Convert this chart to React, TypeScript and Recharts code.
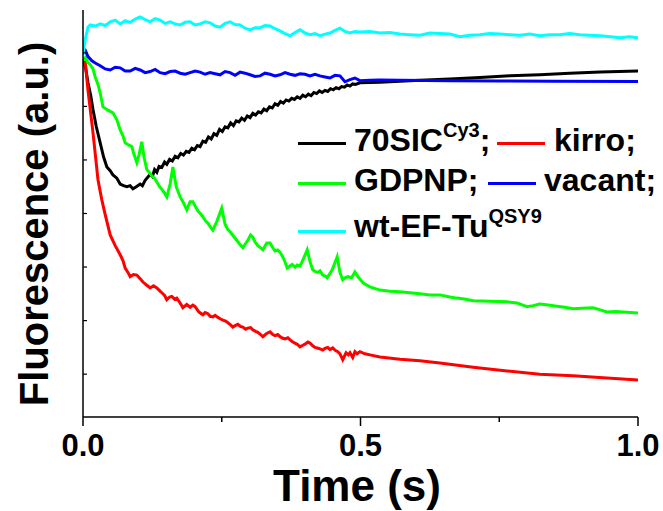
import React from "react";
import { LineChart, Line, XAxis, YAxis, Legend } from "recharts";

// [time (s), fluorescence (a.u.)]
const sic70: [number, number][] = [
  [0, 5.87], [0.005, 5.7], [0.009, 5.44], [0.014, 5.2], [0.018, 4.94], [0.024, 4.62], [0.031, 4.32],
  [0.037, 4.06], [0.043, 3.87], [0.049, 3.8], [0.054, 3.72], [0.061, 3.66], [0.067, 3.55], [0.073, 3.52],
  [0.079, 3.5], [0.085, 3.52], [0.09, 3.46], [0.096, 3.5], [0.103, 3.55], [0.107, 3.52], [0.112, 3.62],
  [0.117, 3.68], [0.121, 3.73], [0.125, 3.69], [0.129, 3.82], [0.133, 3.77], [0.137, 3.88], [0.142, 3.86],
  [0.147, 3.96], [0.151, 3.92], [0.156, 4.01], [0.161, 3.98], [0.166, 4.07], [0.171, 4.04], [0.176, 4.12],
  [0.181, 4.09], [0.186, 4.16], [0.191, 4.14], [0.196, 4.22], [0.201, 4.19], [0.206, 4.27], [0.211, 4.25],
  [0.216, 4.35], [0.221, 4.33], [0.226, 4.43], [0.231, 4.39], [0.236, 4.49], [0.241, 4.46], [0.246, 4.57],
  [0.251, 4.53], [0.256, 4.62], [0.261, 4.6], [0.266, 4.69], [0.271, 4.64], [0.276, 4.73], [0.281, 4.71],
  [0.286, 4.78], [0.291, 4.74], [0.296, 4.82], [0.301, 4.79], [0.306, 4.87], [0.311, 4.84], [0.316, 4.9],
  [0.321, 4.88], [0.326, 4.95], [0.331, 4.92], [0.336, 4.99], [0.341, 4.97], [0.346, 5.05], [0.351, 5.02],
  [0.356, 5.09], [0.361, 5.06], [0.366, 5.12], [0.371, 5.1], [0.376, 5.15], [0.381, 5.13], [0.386, 5.18],
  [0.391, 5.15], [0.396, 5.21], [0.401, 5.18], [0.406, 5.23], [0.411, 5.2], [0.416, 5.26], [0.421, 5.24],
  [0.426, 5.29], [0.431, 5.26], [0.436, 5.3], [0.441, 5.28], [0.446, 5.33], [0.451, 5.31], [0.456, 5.35],
  [0.461, 5.33], [0.466, 5.37], [0.471, 5.36], [0.476, 5.4], [0.481, 5.38], [0.486, 5.42], [0.491, 5.41],
  [0.499, 5.44], [0.535, 5.45], [0.571, 5.47], [0.607, 5.49], [0.661, 5.51], [0.715, 5.54],
  [0.769, 5.57], [0.823, 5.59], [0.877, 5.62], [0.932, 5.64], [1.0, 5.66],
];

const kirro: [number, number][] = [
  [0, 5.87], [0.004, 5.83], [0.009, 5.3], [0.018, 4.51], [0.027, 3.63], [0.034, 3.25], [0.04, 2.98],
  [0.049, 2.6], [0.058, 2.4], [0.067, 2.23], [0.072, 2.12], [0.076, 1.98], [0.081, 1.9], [0.085, 1.82],
  [0.091, 1.86], [0.097, 1.85], [0.103, 1.78], [0.108, 1.72], [0.115, 1.66], [0.121, 1.61], [0.127, 1.65],
  [0.133, 1.61], [0.138, 1.56], [0.142, 1.52], [0.147, 1.47], [0.151, 1.39], [0.156, 1.44], [0.16, 1.45],
  [0.165, 1.4], [0.169, 1.42], [0.175, 1.33], [0.18, 1.24], [0.187, 1.3], [0.193, 1.25], [0.198, 1.29],
  [0.202, 1.26], [0.209, 1.16], [0.216, 1.11], [0.22, 1.15], [0.225, 1.13], [0.229, 1.08], [0.234, 1.07],
  [0.238, 1.1], [0.243, 1.06], [0.248, 1.03], [0.252, 1.01], [0.257, 0.99], [0.261, 0.96], [0.266, 0.92],
  [0.27, 0.88], [0.275, 0.91], [0.279, 0.93], [0.284, 0.89], [0.288, 0.88], [0.293, 0.84], [0.297, 0.86],
  [0.302, 0.87], [0.306, 0.83], [0.311, 0.8], [0.315, 0.78], [0.32, 0.74], [0.324, 0.7], [0.331, 0.76],
  [0.337, 0.79], [0.342, 0.74], [0.346, 0.72], [0.351, 0.74], [0.355, 0.7], [0.36, 0.67], [0.364, 0.66],
  [0.369, 0.68], [0.373, 0.64], [0.378, 0.6], [0.382, 0.58], [0.387, 0.55], [0.391, 0.51], [0.396, 0.54],
  [0.4, 0.56], [0.405, 0.6], [0.409, 0.58], [0.414, 0.53], [0.418, 0.5], [0.425, 0.48], [0.432, 0.45],
  [0.436, 0.48], [0.441, 0.5], [0.445, 0.46], [0.45, 0.49], [0.455, 0.44], [0.459, 0.42], [0.463, 0.38],
  [0.468, 0.27], [0.474, 0.4], [0.478, 0.36], [0.481, 0.4], [0.486, 0.31], [0.49, 0.42], [0.494, 0.38],
  [0.499, 0.42], [0.508, 0.38], [0.517, 0.36], [0.535, 0.32], [0.571, 0.28], [0.607, 0.25], [0.643, 0.21],
  [0.703, 0.13], [0.764, 0.06], [0.823, 0.0], [0.883, -0.03], [0.944, -0.07], [1.0, -0.11],
];

const gdpnp: [number, number][] = [
  [0, 5.87], [0.004, 5.91], [0.009, 5.82], [0.013, 5.78], [0.018, 5.7], [0.022, 5.55], [0.027, 5.41],
  [0.031, 5.25], [0.036, 4.99], [0.045, 4.93], [0.054, 4.88], [0.061, 4.75], [0.067, 4.56], [0.072, 4.45],
  [0.076, 4.32], [0.082, 4.28], [0.088, 4.25], [0.092, 4.1], [0.097, 3.95], [0.101, 4.1], [0.106, 4.34],
  [0.11, 4.05], [0.115, 3.82], [0.12, 3.76], [0.124, 3.7], [0.129, 3.66], [0.133, 3.59], [0.138, 3.5],
  [0.142, 3.45], [0.147, 3.38], [0.151, 3.31], [0.157, 3.55], [0.162, 3.87], [0.168, 3.5], [0.175, 3.31],
  [0.181, 3.2], [0.187, 3.07], [0.193, 3.22], [0.198, 3.22], [0.203, 3.12], [0.207, 3.05], [0.212, 2.99],
  [0.216, 2.94], [0.221, 2.86], [0.225, 2.82], [0.23, 2.74], [0.234, 2.69], [0.241, 2.85], [0.25, 3.1],
  [0.256, 2.8], [0.261, 2.7], [0.265, 2.66], [0.271, 2.58], [0.277, 2.5], [0.283, 2.42], [0.288, 2.36],
  [0.293, 2.44], [0.297, 2.5], [0.302, 2.6], [0.306, 2.56], [0.31, 2.47], [0.315, 2.4], [0.32, 2.36],
  [0.324, 2.32], [0.331, 2.45], [0.337, 2.45], [0.342, 2.36], [0.346, 2.3], [0.351, 2.32], [0.355, 2.28],
  [0.362, 2.15], [0.368, 1.98], [0.373, 2.02], [0.377, 2.05], [0.382, 2.0], [0.386, 2.04], [0.391, 2.02],
  [0.395, 2.1], [0.404, 2.32], [0.409, 2.1], [0.414, 1.95], [0.418, 1.92], [0.423, 1.9], [0.427, 1.93],
  [0.432, 1.85], [0.436, 1.83], [0.44, 1.8], [0.449, 1.95], [0.458, 2.19], [0.463, 1.9], [0.468, 1.76],
  [0.472, 1.8], [0.477, 1.82], [0.484, 1.8], [0.49, 1.91], [0.497, 1.8], [0.505, 1.7], [0.517, 1.63],
  [0.535, 1.57], [0.553, 1.55], [0.571, 1.54], [0.589, 1.52], [0.607, 1.5], [0.625, 1.48], [0.643, 1.48],
  [0.661, 1.44], [0.674, 1.42], [0.69, 1.4], [0.703, 1.37], [0.733, 1.36], [0.764, 1.35], [0.782, 1.33],
  [0.8, 1.26], [0.811, 1.28], [0.823, 1.31], [0.838, 1.29], [0.854, 1.27], [0.868, 1.25], [0.883, 1.22],
  [0.9, 1.23], [0.919, 1.24], [0.932, 1.2], [0.944, 1.16], [0.96, 1.17], [0.973, 1.16], [0.986, 1.15],
  [1.0, 1.14],
];

const vacant: [number, number][] = [
  [0, 6.09], [0.004, 6.05], [0.009, 5.93], [0.016, 5.85], [0.022, 5.81], [0.031, 5.76], [0.04, 5.7],
  [0.049, 5.68], [0.058, 5.73], [0.067, 5.72], [0.076, 5.66], [0.085, 5.66], [0.094, 5.71], [0.103, 5.68],
  [0.112, 5.63], [0.121, 5.65], [0.13, 5.69], [0.139, 5.63], [0.148, 5.61], [0.157, 5.65], [0.166, 5.66],
  [0.175, 5.62], [0.184, 5.6], [0.193, 5.63], [0.202, 5.66], [0.211, 5.64], [0.22, 5.6], [0.229, 5.63],
  [0.238, 5.61], [0.247, 5.59], [0.256, 5.65], [0.265, 5.63], [0.274, 5.58], [0.283, 5.64], [0.292, 5.62],
  [0.301, 5.59], [0.31, 5.56], [0.319, 5.57], [0.328, 5.62], [0.337, 5.6], [0.346, 5.57], [0.355, 5.59],
  [0.364, 5.63], [0.373, 5.6], [0.382, 5.58], [0.391, 5.61], [0.4, 5.6], [0.409, 5.57], [0.418, 5.6],
  [0.427, 5.57], [0.436, 5.55], [0.445, 5.53], [0.454, 5.58], [0.463, 5.57], [0.472, 5.46], [0.481, 5.5],
  [0.49, 5.53], [0.499, 5.48], [0.517, 5.49], [0.535, 5.495], [0.571, 5.486], [0.661, 5.477],
  [0.751, 5.475], [0.85, 5.47], [1.0, 5.467],
];

const wtEfTu: [number, number][] = [
  [0, 5.96], [0.004, 6.25], [0.009, 6.48], [0.013, 6.52], [0.022, 6.5], [0.031, 6.54], [0.04, 6.51],
  [0.049, 6.58], [0.058, 6.61], [0.067, 6.54], [0.076, 6.6], [0.085, 6.57], [0.094, 6.63], [0.103, 6.67],
  [0.112, 6.62], [0.121, 6.58], [0.13, 6.64], [0.139, 6.61], [0.148, 6.55], [0.157, 6.58], [0.166, 6.54],
  [0.175, 6.52], [0.184, 6.57], [0.193, 6.58], [0.202, 6.52], [0.211, 6.54], [0.22, 6.58], [0.229, 6.56],
  [0.238, 6.5], [0.247, 6.48], [0.256, 6.55], [0.265, 6.58], [0.274, 6.53], [0.283, 6.52], [0.292, 6.46],
  [0.301, 6.43], [0.31, 6.47], [0.319, 6.47], [0.328, 6.51], [0.337, 6.5], [0.346, 6.45], [0.355, 6.41],
  [0.364, 6.36], [0.373, 6.32], [0.382, 6.38], [0.391, 6.43], [0.4, 6.37], [0.409, 6.34], [0.418, 6.36],
  [0.427, 6.32], [0.436, 6.35], [0.445, 6.37], [0.454, 6.42], [0.463, 6.46], [0.472, 6.4], [0.481, 6.37],
  [0.49, 6.4], [0.499, 6.39], [0.517, 6.4], [0.535, 6.37], [0.553, 6.38], [0.571, 6.35], [0.589, 6.34],
  [0.607, 6.33], [0.625, 6.37], [0.643, 6.36], [0.661, 6.35], [0.679, 6.3], [0.697, 6.33], [0.715, 6.34],
  [0.733, 6.36], [0.751, 6.35], [0.769, 6.34], [0.787, 6.33], [0.805, 6.35], [0.823, 6.32], [0.841, 6.34],
  [0.859, 6.34], [0.877, 6.36], [0.895, 6.34], [0.913, 6.33], [0.932, 6.32], [0.95, 6.3], [0.968, 6.28],
  [0.984, 6.3], [1.0, 6.28],
];

const xTicks = [0, 0.25, 0.5, 0.75, 1.0];
const xLabelled = [0, 0.5, 1.0];
const yTicks = [0, 1, 2, 3, 4, 5, 6];

const FONT = "'Liberation Sans', Arial, sans-serif";

const series = [
  { key: "sic", name: "70SIC", sup: "Cy3", tail: ";", color: "#000000", points: sic70 },
  { key: "kirro", name: "kirro;", sup: "", tail: "", color: "#ff0000", points: kirro },
  { key: "gdpnp", name: "GDPNP;", sup: "", tail: "", color: "#00ff00", points: gdpnp },
  { key: "vacant", name: "vacant;", sup: "", tail: "", color: "#0000ff", points: vacant },
  { key: "wt", name: "wt-EF-Tu", sup: "QSY9", tail: "", color: "#00ffff", points: wtEfTu },
];

// legend placement: [lineLeft, lineY, textLeft, baseline]
const legendPos: Record<string, [number, number, number, number]> = {
  sic: [298, 143, 354, 151],
  kirro: [497, 143, 554, 151],
  gdpnp: [298, 183, 354, 191],
  vacant: [488, 183, 544, 191],
  wt: [298, 231, 354, 237],
};

const XTick = (props: any) => {
  const { x, y, payload } = props;
  const big = xLabelled.includes(payload.value);
  return (
    <g>
      <line x1={x} x2={x} y1={y} y2={y + (big ? 9 : 5)} stroke="#000" strokeWidth={1.5} />
      {big && (
        <text x={x} y={y + 39} textAnchor="middle" fontFamily={FONT} fontWeight={700} fontSize={31} fill="#000">
          {payload.value.toFixed(1)}
        </text>
      )}
    </g>
  );
};

const YTick = (props: any) => {
  const { x, y } = props;
  return <line x1={x} x2={x + 4} y1={y} y2={y} stroke="#000" strokeWidth={1.2} />;
};

const renderLegend = () => (
  <div style={{ position: "relative", width: 663, height: 511, fontFamily: FONT, fontWeight: 700, fontSize: 32 }}>
    {series.map((s) => {
      const [lx, ly, tx, base] = legendPos[s.key];
      return (
        <React.Fragment key={s.key}>
          <div style={{ position: "absolute", left: lx, top: ly - 1.5, width: 48, height: 3, background: s.color }} />
          <div style={{ position: "absolute", left: tx, top: base - 27, lineHeight: "32px", whiteSpace: "nowrap", color: "#000" }}>
            {s.name}
            {s.sup && <span style={{ fontSize: 20, position: "relative", top: -14 }}>{s.sup}</span>}
            {s.tail}
          </div>
        </React.Fragment>
      );
    })}
  </div>
);

export default function App() {
  return (
    <div style={{ position: "absolute", left: 0, top: 0, width: 663, height: 511, background: "#fff" }}>
      <LineChart width={663} height={511} margin={{ top: 10, right: 25, bottom: 93, left: 82 }}>
        <XAxis
          type="number"
          dataKey="t"
          domain={[0, 1]}
          ticks={xTicks}
          interval={0}
          height={1}
          tickLine={false}
          tickSize={0}
          tickMargin={0}
          tick={<XTick />}
          axisLine={{ stroke: "#000", strokeWidth: 1.5 }}
          allowDataOverflow
          label={{
            content: () => (
              <text x={357} y={501} textAnchor="middle" fontFamily={FONT} fontWeight={700} fontSize={44} fill="#000">
                Time (s)
              </text>
            ),
          }}
        />
        <YAxis
          type="number"
          dataKey="v"
          domain={[-0.8, 6.8]}
          ticks={yTicks}
          interval={0}
          width={1}
          tickLine={false}
          tickSize={0}
          tickMargin={0}
          tick={<YTick />}
          axisLine={{ stroke: "#000", strokeWidth: 1.5 }}
          allowDataOverflow
          label={{
            content: () => (
              <text
                x={48}
                y={224}
                transform="rotate(-90, 48, 224)"
                textAnchor="middle"
                fontFamily={FONT}
                fontWeight={700}
                fontSize={40}
                fill="#000"
              >
                Fluorescence (a.u.)
              </text>
            ),
          }}
        />
        {series.map((s) => (
          <Line
            key={s.key}
            data={s.points.map(([t, v]) => ({ t, v }))}
            dataKey="v"
            name={s.name}
            type="linear"
            stroke={s.color}
            strokeWidth={3}
            dot={false}
            activeDot={false}
            isAnimationActive={false}
          />
        ))}
        <Legend
          layout="horizontal"
          verticalAlign="middle"
          align="center"
          content={renderLegend}
          wrapperStyle={{ left: 0, top: 0, width: 663, height: 511, pointerEvents: "none" }}
        />
      </LineChart>
    </div>
  );
}
